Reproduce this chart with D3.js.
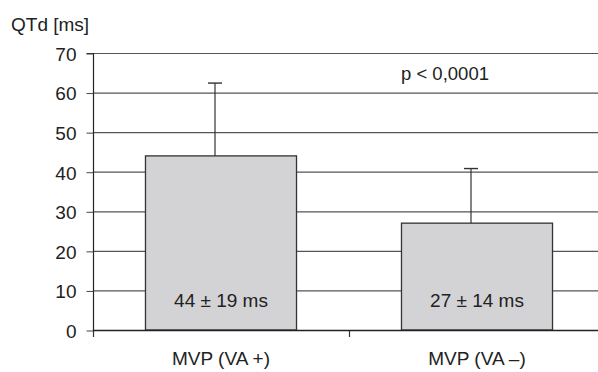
<!DOCTYPE html>
<html>
<head>
<meta charset="utf-8">
<script src="https://cdn.jsdelivr.net/npm/d3@7"></script>
<style>
  body { margin: 0; background: #fff; }
  text { font-family: "Liberation Sans", Arial, sans-serif; fill: #222; }
</style>
</head>
<body>
<div id="chart"></div>
<script>
// data
var groups = ["MVP (VA +)", "MVP (VA \u2013)"];
var means = [44, 27];
var sds = [19, 14];
var errTops = [62.4, 40.8];
var barLabels = ["44 \u00b1 19 ms", "27 \u00b1 14 ms"];
var yTicks = [0, 10, 20, 30, 40, 50, 60, 70];

var svgWidth = 598;
var svgHeight = 372;
var margin = { top: 53, right: -7, bottom: 42, left: 93 };
var width = svgWidth - margin.left - margin.right;
var height = svgHeight - margin.top - margin.bottom;

var svg = d3.select("#chart")
  .append("svg")
  .attr("width", svgWidth)
  .attr("height", svgHeight);

var chartGroup = svg.append("g")
  .attr("transform", `translate(${margin.left}, ${margin.top})`);

var x = d3.scaleBand()
  .domain(groups)
  .range([0, width])
  .paddingInner(0.41)
  .paddingOuter(0.205);

var y = d3.scaleLinear()
  .domain([0, 70])
  .range([height, 0]);

// gridlines
chartGroup.selectAll(".grid")
  .data(yTicks)
  .enter()
  .append("line")
  .attr("x1", 0)
  .attr("x2", width)
  .attr("y1", d => y(d) + 0.5)
  .attr("y2", d => y(d) + 0.5)
  .attr("stroke", "#555")
  .attr("stroke-width", 1.2);

// y axis
var leftAxis = d3.axisLeft(y).tickValues(yTicks).tickSize(7).tickPadding(10);
var yAxis = chartGroup.append("g").attr("transform", "translate(0.5,0.5)").call(leftAxis);
yAxis.select(".domain").attr("stroke", "#222").attr("stroke-width", 1.2).attr("d", `M-7,0H0V${height}`);
yAxis.selectAll(".tick line").attr("stroke", "#444");
yAxis.selectAll(".tick text")
  .attr("dy", "0.36em")
  .style("font-family", "'Liberation Sans', Arial, sans-serif")
  .style("font-size", "19px")
  .style("fill", "#222");

// category boundary ticks on x axis
var bounds = [0, width / 2];
chartGroup.selectAll(".xtick")
  .data(bounds)
  .enter()
  .append("line")
  .attr("x1", d => d + 0.5)
  .attr("x2", d => d + 0.5)
  .attr("y1", height)
  .attr("y2", height + 7)
  .attr("stroke", "#333")
  .attr("stroke-width", 1.2);

// error bars (drawn slightly left of centre, as in the source)
var errOffset = -6;
chartGroup.selectAll(".err")
  .data(groups)
  .enter()
  .append("line")
  .attr("x1", d => x(d) + x.bandwidth() / 2 + errOffset)
  .attr("x2", d => x(d) + x.bandwidth() / 2 + errOffset)
  .attr("y1", (d, i) => y(means[i]))
  .attr("y2", (d, i) => y(errTops[i]))
  .attr("stroke", "#333")
  .attr("stroke-width", 1.2);

chartGroup.selectAll(".cap")
  .data(groups)
  .enter()
  .append("line")
  .attr("x1", d => x(d) + x.bandwidth() / 2 + errOffset - 7)
  .attr("x2", d => x(d) + x.bandwidth() / 2 + errOffset + 7)
  .attr("y1", (d, i) => y(errTops[i]))
  .attr("y2", (d, i) => y(errTops[i]))
  .attr("stroke", "#333")
  .attr("stroke-width", 1.4);

// bars
chartGroup.selectAll("rect")
  .data(groups)
  .enter()
  .append("rect")
  .attr("x", d => x(d))
  .attr("y", (d, i) => y(means[i]))
  .attr("width", x.bandwidth())
  .attr("height", (d, i) => height - y(means[i]))
  .attr("fill", "#d3d3d5")
  .attr("stroke", "#333")
  .attr("stroke-width", 1.3);

// x baseline
chartGroup.append("line")
  .attr("x1", 0)
  .attr("x2", width)
  .attr("y1", height + 0.5)
  .attr("y2", height + 0.5)
  .attr("stroke", "#222")
  .attr("stroke-width", 1.6);

// labels inside bars
chartGroup.selectAll(".barlabel")
  .data(groups)
  .enter()
  .append("text")
  .attr("x", d => x(d) + x.bandwidth() / 2)
  .attr("y", height - 23)
  .attr("text-anchor", "middle")
  .style("font-size", "19px")
  .text((d, i) => barLabels[i]);

// category labels
chartGroup.selectAll(".catlabel")
  .data(groups)
  .enter()
  .append("text")
  .attr("x", d => x(d) + x.bandwidth() / 2)
  .attr("y", height + 35)
  .attr("text-anchor", "middle")
  .style("font-size", "19px")
  .text(d => d);

// y axis title
svg.append("text")
  .attr("x", 11)
  .attr("y", 31)
  .style("font-size", "19px")
  .text("QTd [ms]");

// p value
svg.append("text")
  .attr("x", 401)
  .attr("y", 80)
  .style("font-size", "18.5px")
  .text("p < 0,0001");
</script>
</body>
</html>
